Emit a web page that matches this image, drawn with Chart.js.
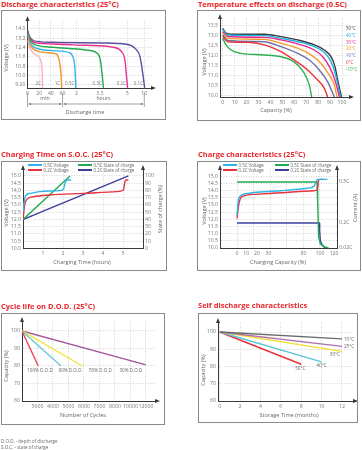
<!DOCTYPE html>
<html>
<head>
<meta charset="utf-8">
<title>Battery characteristics</title>
<script src="https://cdn.jsdelivr.net/npm/chart.js@4.4.1/dist/chart.umd.min.js"></script>
<style>
  body { margin: 0; width: 362px; height: 450px; position: relative; background: #fff; overflow: hidden; font-family: "Open Sans", sans-serif; }
  .titulo { position: absolute; color: #e8262c; font-weight: 700; font-size: 7.5px; white-space: nowrap; line-height: 1; }
  .caja { position: absolute; border: 1px solid #8a8a8a; box-sizing: border-box; }
  canvas { position: absolute; }
  .eje { position: absolute; font-size: 5.6px; color: #666; white-space: nowrap; line-height: 1; transform: translate(-50%, -50%); }
  .eje.rot { transform: translate(-50%, -50%) rotate(-90deg); }
  .nota { position: absolute; font-size: 4.5px; color: #666; white-space: nowrap; line-height: 1; }
  .leyenda { position: absolute; font-size: 4.4px; color: #666; white-space: nowrap; line-height: 1; display: flex; align-items: center; }
  .leyenda span { display: inline-block; width: 14px; height: 1.6px; margin-right: 1.5px; }
</style>
</head>
<body>

<!-- 1. Discharge characteristics -->
<div class="titulo" style="left:1px;top:0.5px">Discharge characteristics (25°C)</div>
<div class="caja" style="left:1px;top:10px;width:165px;height:110px"></div>
<canvas id="graficaDescarga" width="163" height="108" style="left:2px;top:11px"></canvas>
<div class="eje rot" style="left:7px;top:58px">Voltage (V)</div>
<div class="eje" style="left:85px;top:113px">Discharge time</div>

<!-- 2. Temperature effects -->
<div class="titulo" style="left:198px;top:0.5px">Temperature effects on discharge (0.5C)</div>
<div class="caja" style="left:197px;top:10px;width:164px;height:111px"></div>
<canvas id="graficaTemperatura" width="162" height="109" style="left:198px;top:11px"></canvas>
<div class="eje rot" style="left:205px;top:62px">Voltage (V)</div>
<div class="eje" style="left:276px;top:111px">Capacity (%)</div>

<!-- 3. Charging time on S.O.C. -->
<div class="titulo" style="left:1px;top:150.5px">Charging Time on S.O.C. (25°C)</div>
<div class="caja" style="left:1px;top:161px;width:166px;height:110px"></div>
<canvas id="graficaSOC" width="164" height="108" style="left:2px;top:162px"></canvas>
<div class="eje rot" style="left:7px;top:213px">Voltage (V)</div>
<div class="eje rot" style="left:161px;top:209px">State of charge (%)</div>
<div class="eje" style="left:82px;top:263px">Charging Time (hours)</div>

<!-- 4. Charge characteristics -->
<div class="titulo" style="left:198px;top:150.5px">Charge characteristics (25°C)</div>
<div class="caja" style="left:197px;top:161px;width:164px;height:110px"></div>
<canvas id="graficaCarga" width="162" height="108" style="left:198px;top:162px"></canvas>
<div class="eje rot" style="left:205px;top:211px">Voltage (V)</div>
<div class="eje rot" style="left:356px;top:208px">Current (A)</div>
<div class="eje" style="left:278px;top:263px">Charging Capacity (%)</div>

<!-- 5. Cycle life -->
<div class="titulo" style="left:1px;top:302.5px">Cycle life on D.O.D. (25°C)</div>
<div class="caja" style="left:1px;top:313px;width:164px;height:112px"></div>
<canvas id="graficaCiclos" width="162" height="110" style="left:2px;top:314px"></canvas>
<div class="eje rot" style="left:7px;top:366px">Capacity (%)</div>
<div class="eje" style="left:83px;top:416px">Number of Cycles</div>
<div class="nota" style="left:1px;top:439px">D.O.D. - depth of discharge</div>
<div class="nota" style="left:1px;top:444.5px">S.O.C. - state of charge</div>

<!-- 6. Self discharge -->
<div class="titulo" style="left:198px;top:301.5px">Self discharge characteristics</div>
<div class="caja" style="left:198px;top:313px;width:160px;height:110px"></div>
<canvas id="graficaAutodescarga" width="158" height="108" style="left:199px;top:314px"></canvas>
<div class="eje rot" style="left:204px;top:370px">Capacity (%)</div>
<div class="eje" style="left:289px;top:416px">Storage Time (months)</div>

<script>
// ---------- DATOS ----------

// 1. Descarga (x = posición en el eje mixto min/horas)
const disTickPos = [0, 1, 2, 3, 4.2, 6.2, 8.55, 10];
const disTickLbl = ['0', '20', '40', '60', '2', '3.3', '5', '10'];
const disVoltTicks = [9.2, 10.0, 10.8, 11.6, 12.4, 13.2, 14.0];
const disVoltLbl = ['9.20', '10.0', '10.8', '11.6', '12.4', '13.2', '14.0'];
const disSpanEdge = [0, 3, 10];
const disSpanLbl = ['min', 'hours'];
const disRates = ['2C', '1C', '0.5C', '0.3C', '0.2C', '0.1C'];
const dis2C = [[0, 13.05], [0.12, 12.6], [0.29, 12.2], [0.5, 11.95], [0.72, 11.77], [1.0, 11.57], [1.18, 11.06], [1.27, 9.91], [1.29, 8.95]];
const dis1C = [[0, 13.4], [0.15, 12.75], [0.43, 12.35], [0.9, 12.08], [1.59, 11.97], [2.45, 11.86], [2.67, 11.49], [2.84, 10.49], [2.93, 8.95]];
const dis05C = [[0, 13.55], [0.15, 13.0], [0.43, 12.54], [1.0, 12.28], [2.16, 12.14], [3.59, 11.97], [3.88, 11.63], [4.05, 10.77], [4.14, 8.95]];
const dis03C = [[0, 13.7], [0.15, 13.2], [0.43, 12.77], [1.0, 12.55], [2.16, 12.43], [5.03, 12.2], [5.89, 11.97], [6.24, 11.34], [6.41, 9.91], [6.5, 8.95]];
const dis02C = [[0, 13.8], [0.15, 13.3], [0.43, 12.91], [1.0, 12.78], [2.16, 12.71], [5.03, 12.6], [7.33, 12.43], [8.05, 12.05], [8.34, 11.34], [8.48, 9.91], [8.57, 8.95]];
const dis01C = [[0, 13.9], [0.15, 13.4], [0.43, 13.06], [1.0, 12.92], [2.16, 12.86], [6.47, 12.8], [8.48, 12.69], [9.2, 12.35], [9.63, 11.63], [9.91, 9.91], [10.03, 8.95]];

// 2. Temperatura (x = capacidad %)
const tempCapTicks = [0, 10, 20, 30, 40, 50, 60, 70, 80, 90, 100];
const tempVoltTicks = [10.0, 10.5, 11.0, 11.5, 12.0, 12.5, 13.0, 13.5];
const tempLbl = ['50°C', '40°C', '30°C', '20°C', '10°C', '0°C', '-10°C'];
const temp50 = [[0, 13.38], [2.8, 13.13], [7, 13.08], [34.9, 13.08], [48.9, 12.96], [62.8, 12.79], [76.8, 12.54], [85.2, 12.28], [90.8, 11.94], [94.1, 11.44], [96.4, 10.76], [99.5, 9.9]];
const temp40 = [[0, 13.3], [4.2, 13.04], [34.9, 13.01], [48.9, 12.87], [62.8, 12.7], [76.8, 12.45], [85.2, 12.15], [90.8, 11.69], [95, 10.93], [98.6, 9.9]];
const temp30 = [[0, 13.21], [4.2, 12.96], [34.9, 12.92], [48.9, 12.79], [62.8, 12.59], [76.8, 12.28], [83.8, 11.94], [89.4, 11.44], [94.1, 10.76], [97.8, 9.9]];
const temp20 = [[0, 13.13], [4.2, 12.87], [34.9, 12.82], [48.9, 12.62], [62.8, 12.37], [74, 12.03], [82.4, 11.6], [89.4, 11.01], [93.6, 10.5], [95.8, 9.9]];
const temp10 = [[0, 13.04], [4.2, 12.76], [34.9, 12.7], [48.9, 12.45], [62.8, 12.11], [72.6, 11.77], [81, 11.27], [88, 10.67], [93.6, 9.9]];
const temp0 = [[0, 12.96], [4.2, 12.7], [20.9, 12.67], [34.9, 12.54], [48.9, 12.2], [60, 11.77], [71.2, 11.27], [79.6, 10.76], [85.2, 10.34], [88, 9.9]];
const tempM10 = [[0, 12.87], [2.8, 12.54], [7, 12.28], [15.4, 12.11], [34.9, 12.03], [48.9, 11.94], [57.3, 11.77], [62.8, 11.52], [68.4, 11.1], [72.6, 10.5], [74.6, 9.9]];

// 3. Tiempo de carga vs S.O.C. (x = horas)
const socHourTicks = [1, 2, 3, 4, 5];
const socVoltTicks = [10.0, 10.5, 11.0, 11.5, 12.0, 12.5, 13.0, 13.5, 14.0, 14.5, 15.0];
const socPctTicks = [0, 10, 20, 30, 40, 50, 60, 70, 80, 90, 100];
const socLbl = ['0.5C Voltage', '0.2C Voltage', '0.5C State of charge', '0.2C State of charge'];
const socV05 = [[0, 12.5], [0.05, 13.1], [0.15, 13.69], [0.35, 13.8], [0.85, 13.92], [1.35, 13.96], [1.85, 13.99], [2.02, 14.08], [2.1, 14.49], [2.18, 14.72], [2.4, 14.72]];
const socV02 = [[0, 12.05], [0.1, 13.11], [0.27, 13.46], [0.52, 13.57], [1.35, 13.69], [3.02, 13.8], [4.68, 13.92], [5.02, 14.03], [5.1, 14.6], [5.15, 14.72], [5.27, 14.72]];
const socS05 = [[0, 40], [2.35, 100]];
const socS02 = [[0, 40], [5.27, 100]];

// 4. Características de carga (x = capacidad %)
const chgGridPos = [0, 20, 40, 60, 80, 100];
const chgLblPos = [0, 11, 24, 38, 80, 100, 117];
const chgLbl = ['0', '10', '20', '30', '80', '100', '120'];
const chgVoltTicks = [10.0, 10.5, 11.0, 11.5, 12.0, 12.5, 13.0, 13.5, 14.0, 14.5, 15.0];
const chgCurTicks = [0.02, 0.2, 0.5];
const chgCurLbl = ['0.02C', '0.2C', '0.5C'];
const chgV05 = [[0, 12.3], [1.6, 13.33], [5.6, 13.68], [13.5, 13.8], [33, 13.91], [53, 13.98], [85, 14.15], [93, 14.3], [95, 14.6], [97, 14.77], [109, 14.77]];
const chgV02 = [[0, 12.06], [2.4, 13.1], [5.6, 13.56], [21.4, 13.73], [53, 13.84], [92.5, 13.98], [96.4, 14.03], [98.4, 14.72], [100.4, 14.77], [104.4, 14.77]];
const chgI05 = [[0, 0.5], [96.4, 0.5], [97.2, 0.367], [98.4, 0.096], [100.4, 0.047], [104.4, 0.027], [110.3, 0.018]];
const chgI02 = [[0, 0.2], [99.2, 0.2], [99.6, 0.145], [100.4, 0.07], [102.4, 0.04], [106.3, 0.018]];

// 5. Vida útil por D.O.D. (x = posición de la etiqueta de ciclos)
const cycTickPos = [1, 2, 3, 4, 5, 6, 7, 8];
const cycTickLbl = ['3000', '4000', '5000', '6000', '7000', '8000', '10000', '12000'];
const capTicks = [60, 70, 80, 90, 100];
const dodLbl = ['100% D.O.D', '80% D.O.D', '50% D.O.D', '30% D.O.D'];
const dod100 = [[0, 100], [1.05, 80]];
const dod80 = [[0, 100], [2.52, 80]];
const dod50 = [[0, 100], [3.9, 80]];
const dod30 = [[0, 100], [8, 80.6]];

// 6. Autodescarga (x = meses)
const sdMonthTicks = [0, 2, 4, 6, 8, 10, 12];
const sdLbl = ['10°C', '25°C', '30°C', '40°C', '50°C'];
const sd10 = [[0, 100], [12, 96]];
const sd25 = [[0, 100], [12, 91.7]];
const sd30 = [[0, 100], [12, 88.8]];
const sd40 = [[0, 100], [10, 82.7]];
const sd50 = [[0, 100], [8, 81.3]];


// ---------- ESTILO ----------
const FONT = '"Open Sans", sans-serif';
const tickFont = { family: FONT, size: 5.2 };
const GRID = '#c4c4c4';
const AXIS = '#3a3a3a';
const disColors = ['#f6b3c3', '#f0962a', '#2fb4ea', '#22a94f', '#e8308a', '#5c4fa0'];
const tempColors = ['#3a3a3a', '#21b5ea', '#e6288a', '#f39a2a', '#6b72a8', '#e8323c', '#2ab04f'];
const chgColors = ['#2fb4ea', '#e8323c', '#22a94f', '#3d3f9e'];
const dodColors = ['#e94b5a', '#6cc9d6', '#f4e43a', '#a6569e'];
const sdColors = ['#6a6a6a', '#b070b0', '#f3e033', '#5bc5d5', '#e8323c'];


// ---------- HELPERS ----------
function serie(pts, color, extra) {
    return Object.assign({
        data: pts.map(p => ({ x: p[0], y: p[1] })),
        borderColor: color, backgroundColor: color, borderWidth: 1.4,
        pointRadius: 0, fill: false, cubicInterpolationMode: 'monotone'
    }, extra || {});
}

// eje con ticks fijos y tamaño fijo (para clavar el área del gráfico)
function eje(o) {
    const horizontal = o.pos === 'bottom';
    return {
        type: 'linear', position: o.pos, min: o.min, max: o.max,
        afterBuildTicks: s => { s.ticks = o.ticks.map(v => ({ value: v })); },
        afterFit: s => { if (horizontal) s.height = o.size; else s.width = o.size; },
        ticks: {
            callback: (v, i) => o.labels ? o.labels[i] : v,
            font: tickFont, color: '#777', padding: 2, autoSkip: false, maxRotation: 0
        },
        grid: { drawTicks: false, lineWidth: 0.7, color: o.gridColor || GRID, drawOnChartArea: o.grid !== false },
        border: { color: AXIS, width: 1, dash: [1, 1.5] }
    };
}

function flechas(up, right) {
    return {
        id: 'flechas',
        afterDraw(chart) {
            const { ctx, chartArea: a } = chart;
            ctx.save();
            ctx.fillStyle = AXIS;
            up.forEach(id => {
                const x = chart.scales[id].position === 'right' ? a.right : a.left;
                ctx.beginPath();
                ctx.moveTo(x, a.top - 4); ctx.lineTo(x - 2, a.top + 1); ctx.lineTo(x + 2, a.top + 1);
                ctx.closePath(); ctx.fill();
            });
            if (right) {
                ctx.beginPath();
                ctx.moveTo(a.right + 4, a.bottom); ctx.lineTo(a.right - 1, a.bottom - 2); ctx.lineTo(a.right - 1, a.bottom + 2);
                ctx.closePath(); ctx.fill();
            }
            ctx.restore();
        }
    };
}

// rótulos de texto colocados con las escalas
function rotulos(items, size) {
    return {
        id: 'rotulos',
        afterDatasetsDraw(chart) {
            const ctx = chart.ctx;
            ctx.save();
            ctx.font = size + 'px ' + FONT;
            ctx.textBaseline = 'middle';
            items.forEach(t => {
                ctx.fillStyle = t.color || '#666';
                ctx.textAlign = t.align || 'center';
                const x = chart.scales.x.getPixelForValue(t.x) + (t.dx || 0);
                const y = chart.scales.y.getPixelForValue(t.y) + (t.dy || 0);
                ctx.fillText(t.text, x, y);
            });
            ctx.restore();
        }
    };
}

function opciones(pad, scales) {
    return {
        responsive: false, animation: false, events: [],
        layout: { padding: pad },
        plugins: { legend: { display: false }, tooltip: { enabled: false } },
        scales: scales
    };
}

function leyenda(labels, colors, x0, x1, y0, y1) {
    labels.forEach((t, i) => {
        const d = document.createElement('div');
        d.className = 'leyenda';
        d.style.left = (i < 2 ? x0 : x1) + 'px';
        d.style.top = (i % 2 === 0 ? y0 : y1) + 'px';
        d.innerHTML = `<span style="background:${colors[i]}"></span>${t}`;
        document.body.appendChild(d);
    });
}


// ---------- 1. DESCARGA ----------
const disSeries = [dis2C, dis1C, dis05C, dis03C, dis02C, dis01C];
const llaves = {
    id: 'llaves',
    afterDraw(chart) {
        const { ctx, chartArea: a } = chart;
        const x = chart.scales.x;
        const px = disSpanEdge.map(v => x.getPixelForValue(v));
        const ym = a.bottom + 16;
        ctx.save();
        ctx.strokeStyle = '#666'; ctx.fillStyle = '#666'; ctx.lineWidth = 0.6;
        px.forEach(p => { ctx.beginPath(); ctx.moveTo(p, a.bottom + 5); ctx.lineTo(p, a.bottom + 19); ctx.stroke(); });
        ctx.font = '5.2px ' + FONT; ctx.textAlign = 'center'; ctx.textBaseline = 'middle';
        disSpanLbl.forEach((t, i) => {
            const xa = px[i] + 1, xb = px[i + 1] - 1;
            ctx.beginPath(); ctx.moveTo(xa, ym); ctx.lineTo(xb, ym); ctx.stroke();
            ctx.beginPath(); ctx.moveTo(xa, ym); ctx.lineTo(xa + 2.5, ym - 1); ctx.lineTo(xa + 2.5, ym + 1); ctx.fill();
            ctx.beginPath(); ctx.moveTo(xb, ym); ctx.lineTo(xb - 2.5, ym - 1); ctx.lineTo(xb - 2.5, ym + 1); ctx.fill();
            ctx.fillText(t, (px[i] + px[i + 1]) / 2, a.bottom + 11);
        });
        ctx.restore();
    }
};
new Chart(document.getElementById('graficaDescarga'), {
    type: 'line',
    data: { datasets: disSeries.map((s, i) => serie(s, disColors[i], { label: disRates[i] })) },
    options: opciones({ top: 9, right: 13 }, {
        x: eje({ pos: 'bottom', min: 0, max: 10.66, ticks: disTickPos, labels: disTickLbl, size: 31 }),
        y: eje({ pos: 'left', min: 8.94, max: 14.77, ticks: disVoltTicks, labels: disVoltLbl, size: 25.5 })
    }),
    plugins: [flechas(['y'], true), llaves,
        rotulos(disSeries.map((s, i) => ({ text: disRates[i], x: s[s.length - 1][0], y: 9.29, dx: -1.5, align: 'right', color: '#777' })), 4.6)]
});


// ---------- 2. TEMPERATURA ----------
const tempSeries = [temp50, temp40, temp30, temp20, temp10, temp0, tempM10];
new Chart(document.getElementById('graficaTemperatura'), {
    type: 'line',
    data: { datasets: tempSeries.map((s, i) => serie(s, tempColors[i], { label: tempLbl[i] })).reverse() },
    options: opciones({ top: 7, right: 10 }, {
        x: eje({ pos: 'bottom', min: -2.26, max: 106.7, ticks: tempCapTicks, size: 23 }),
        y: eje({ pos: 'left', min: 9.9, max: 13.9, ticks: tempVoltTicks, labels: tempVoltTicks.map(v => v.toFixed(1)), size: 22 })
    }),
    plugins: [flechas(['y'], true)]
});
tempLbl.forEach((t, i) => {
    const d = document.createElement('div');
    d.className = 'nota';
    d.style.left = '346px';
    d.style.top = (25.8 + i * 6.85) + 'px';
    d.style.color = tempColors[i];
    d.textContent = t;
    document.body.appendChild(d);
});


// ---------- 3. TIEMPO DE CARGA / S.O.C. ----------
new Chart(document.getElementById('graficaSOC'), {
    type: 'line',
    data: {
        datasets: [
            serie(socV05, chgColors[0], { label: socLbl[0] }),
            serie(socV02, chgColors[1], { label: socLbl[1] }),
            serie(socS05, chgColors[2], { label: socLbl[2], yAxisID: 'y1' }),
            serie(socS02, chgColors[3], { label: socLbl[3], yAxisID: 'y1' })
        ]
    },
    options: opciones({ top: 7 }, {
        x: eje({ pos: 'bottom', min: 0, max: 6, ticks: socHourTicks, size: 21.5 }),
        y: eje({ pos: 'left', min: 10, max: 15.48, ticks: socVoltTicks, labels: socVoltTicks.map(v => v.toFixed(1)), size: 21 }),
        y1: eje({ pos: 'right', min: 0, max: 109.6, ticks: socPctTicks, size: 23, grid: false })
    }),
    plugins: [flechas(['y', 'y1'], false)]
});
leyenda(socLbl, chgColors, 28, 78, 163, 168);


// ---------- 4. CARACTERÍSTICAS DE CARGA ----------
const chgXTicks = [...new Set([...chgGridPos, ...chgLblPos])].sort((a, b) => a - b);
const chgX = eje({ pos: 'bottom', min: -20.5, max: 120.5, ticks: chgXTicks, size: 22 });
chgX.ticks.callback = v => { const k = chgLblPos.indexOf(v); return k < 0 ? '' : chgLbl[k]; };
chgX.grid.color = c => (c.tick && chgGridPos.includes(c.tick.value)) ? GRID : 'rgba(0,0,0,0)';
new Chart(document.getElementById('graficaCarga'), {
    type: 'line',
    data: {
        datasets: [
            serie(chgV05, chgColors[0], { label: socLbl[0] }),
            serie(chgV02, chgColors[1], { label: socLbl[1] }),
            serie(chgI05, chgColors[2], { label: socLbl[2], yAxisID: 'y1', cubicInterpolationMode: 'default', tension: 0 }),
            serie(chgI02, chgColors[3], { label: socLbl[3], yAxisID: 'y1', cubicInterpolationMode: 'default', tension: 0 })
        ]
    },
    options: opciones({ top: 7 }, {
        x: chgX,
        y: eje({ pos: 'left', min: 10, max: 15.49, ticks: chgVoltTicks, labels: chgVoltTicks.map(v => v.toFixed(1)), size: 22 }),
        y1: eje({ pos: 'right', min: 0.017, max: 0.595, ticks: chgCurTicks, labels: chgCurLbl, size: 23, grid: false })
    }),
    plugins: [flechas(['y', 'y1'], false)]
});
leyenda(socLbl, chgColors, 223, 275, 163, 168);


// ---------- 5. VIDA ÚTIL ----------
const dodSeries = [dod100, dod80, dod50, dod30];
new Chart(document.getElementById('graficaCiclos'), {
    type: 'line',
    data: { datasets: dodSeries.map((s, i) => serie(s, dodColors[i], { label: dodLbl[i], tension: 0, cubicInterpolationMode: 'default' })) },
    options: opciones({ top: 7, right: 8 }, {
        x: eje({ pos: 'bottom', min: 0, max: 8.65, ticks: cycTickPos, labels: cycTickLbl, size: 23 }),
        y: eje({ pos: 'left', min: 60, max: 105.7, ticks: capTicks, size: 20 })
    }),
    plugins: [flechas(['y'], true),
        rotulos([
            { text: dodLbl[0], x: 1.16, y: 77.1 },
            { text: dodLbl[1], x: 3.1, y: 77.1 },
            { text: dodLbl[2], x: 5.06, y: 77.1 },
            { text: dodLbl[3], x: 7.03, y: 77.1 }
        ], 4.6)]
});


// ---------- 6. AUTODESCARGA ----------
const sdSeries = [sd10, sd25, sd30, sd40, sd50];
new Chart(document.getElementById('graficaAutodescarga'), {
    type: 'line',
    data: { datasets: sdSeries.map((s, i) => serie(s, sdColors[i], { label: sdLbl[i], tension: 0, cubicInterpolationMode: 'default' })) },
    options: opciones({ top: 8, right: 3 }, {
        x: eje({ pos: 'bottom', min: -0.17, max: 13.18, ticks: sdMonthTicks, size: 21 }),
        y: eje({ pos: 'left', min: 60, max: 105.8, ticks: capTicks, size: 19 })
    }),
    plugins: [flechas(['y'], true),
        rotulos([
            { text: sdLbl[0], x: 12, y: 96, dx: 2, dy: 0.6, align: 'left' },
            { text: sdLbl[1], x: 12, y: 91.7, dx: 2, align: 'left' },
            { text: sdLbl[2], x: 12, y: 88.8, dx: -2, dy: 3, align: 'right' },
            { text: sdLbl[3], x: 10, y: 82.7, dy: 3.6 },
            { text: sdLbl[4], x: 8, y: 81.3, dx: -1, dy: 4.7 }
        ], 4.6)]
});
</script>
</body>
</html>
